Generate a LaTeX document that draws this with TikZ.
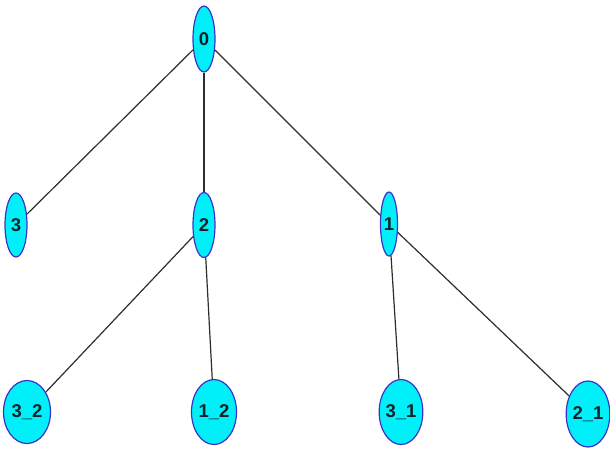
\documentclass[tikz,border=0pt]{standalone}
\usepackage{fontspec}
\setmainfont{Liberation Sans}
\usetikzlibrary{shapes.geometric}
\definecolor{nodefill}{RGB}{0,240,250}
\definecolor{nodeline}{RGB}{60,50,200}
\definecolor{edgeline}{RGB}{45,45,45}
\definecolor{labeltext}{RGB}{15,35,40}
\tikzset{
  tnode/.style={ellipse, draw=nodeline, fill=nodefill, line width=1.2pt,
    inner sep=0pt, font=\fontsize{18.5}{18.5}\selectfont\bfseries, text=labeltext},
  tedge/.style={draw=edgeline, line width=1.2pt}
}
\begin{document}
\begin{tikzpicture}[x=1pt, y=-1pt]
\useasboundingbox (0,0) rectangle (610,450);
% tree nodes
\node[tnode, minimum width=22pt, minimum height=66pt] (n0) at (204,39) {0};
\node[tnode, minimum width=22pt, minimum height=64pt] (n3) at (16,225) {3};
\node[tnode, minimum width=22pt, minimum height=65pt] (n2) at (204,225) {2};
\node[tnode, minimum width=17pt, minimum height=64pt] (n1) at (389,224) {1};
\node[tnode, minimum width=47pt, minimum height=63pt] (n32) at (27,412) {3\_2};
\node[tnode, minimum width=45pt, minimum height=65pt] (n12) at (214,412) {1\_2};
\node[tnode, minimum width=38pt, minimum height=65pt] (n31) at (401,412) {3\_1};
\node[tnode, minimum width=37pt, minimum height=66pt] (n21) at (588,414) {2\_1};
% edges
\draw[tedge] (n0) -- (n3);
\draw[tedge] (n0) -- (n2);
\draw[tedge] (n0) -- (n1);
\draw[tedge] (n2) -- (n32);
\draw[tedge] (n2) -- (n12);
\draw[tedge] (n1) -- (n31);
\draw[tedge] (n1) -- (n21);
\end{tikzpicture}
\end{document}
